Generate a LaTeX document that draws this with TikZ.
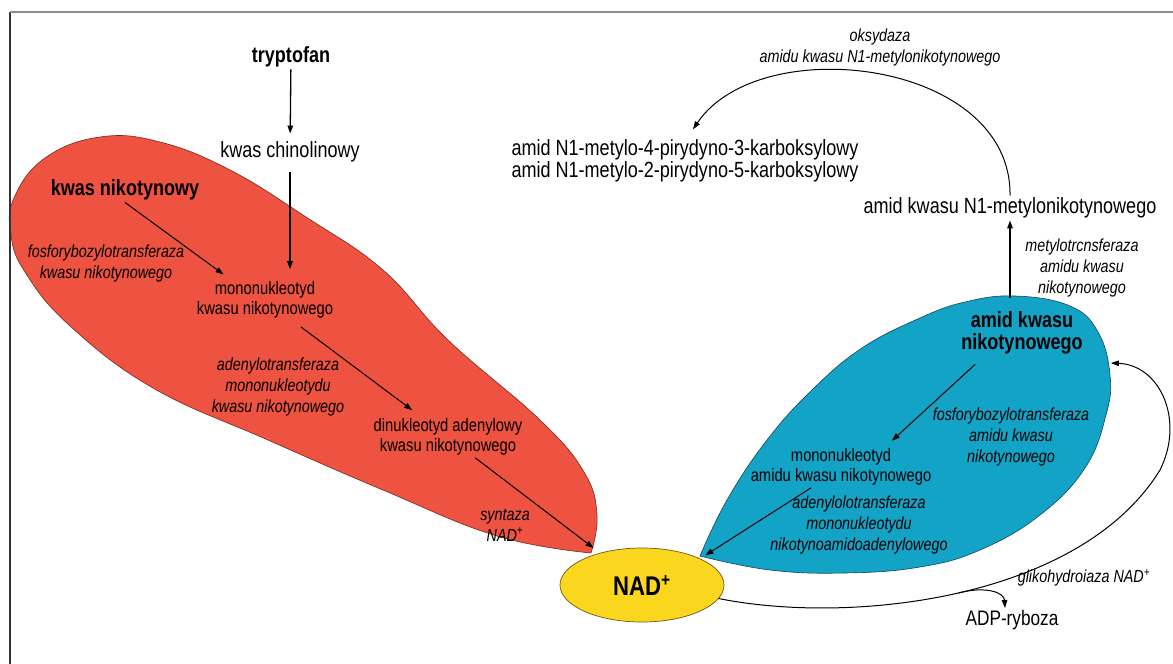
\documentclass[tikz,border=0pt]{standalone}
\usepackage{fontspec}
\setmainfont{Liberation Sans}[FakeStretch=0.82]
\usetikzlibrary{arrows.meta,shapes.geometric}
\definecolor{redleaf}{RGB}{238,82,64}
\definecolor{redline}{RGB}{120,40,30}
\definecolor{blueleaf}{RGB}{18,163,198}
\definecolor{blueline}{RGB}{20,70,90}
\definecolor{nadyellow}{RGB}{250,214,30}
\definecolor{nadline}{RGB}{110,90,20}
\tikzset{
  main/.style={font=\fontsize{22}{22.5}\selectfont, align=center, inner sep=2pt},
  key/.style={font=\fontsize{22}{21.5}\selectfont\bfseries, align=center, inner sep=2pt},
  sub/.style={font=\fontsize{18}{20.5}\selectfont, align=center, inner sep=2pt},
  enz/.style={font=\fontsize{17.5}{21}\selectfont\itshape, align=center, inner sep=2pt},
  nadnode/.style={ellipse, fill=nadyellow, draw=nadline, line width=0.7pt,
    minimum width=164pt, minimum height=74pt, font=\fontsize{27}{27}\selectfont\bfseries},
  arr/.style={-{Triangle[length=8pt,width=5.5pt]}, line width=1pt},
}
\begin{document}
\begin{tikzpicture}[x=1pt,y=-1pt]
  \useasboundingbox (0,0) rectangle (1173,664);
  \fill[white] (0,0) rectangle (1173,664);
  \filldraw[fill=redleaf, draw=redline, line width=0.6pt] plot[smooth, tension=0.7] coordinates {
    (591,553) (597,515) (584,472) (540,420) (448,340) (383,270) (306,217) (230,170)
    (160,142) (100,137) (45,158) (14,198) (11,235) (25,272) (69,325) (153,388)
    (268,440) (383,490) (497,536) (591,553)} -- cycle;
  \filldraw[fill=blueleaf, draw=blueline, line width=0.6pt] plot[smooth, tension=0.7] coordinates {
    (700,556) (727,500) (767,440) (812,390) (862,348) (920,318) (965,302) (1015,296)
    (1070,306) (1098,332) (1110,375) (1106,415) (1085,468) (1040,515) (980,550)
    (920,567) (845,573) (770,570) (700,556)} -- cycle;
  \draw[black!80, line width=1.5pt] (10,664) -- (10,12);
  \draw[black!45, line width=1.5pt] (10,12) -- (1173,12);

  \node[key] (tryp) at (291,57) {tryptofan};
  \node[main] (kch) at (290,152) {kwas chinolinowy};
  \node[key] (kn) at (125,190) {kwas nikotynowy};
  \node[enz] (e1) at (106,263) {fosforybozylotransferaza\\kwasu nikotynowego};
  \node[sub] (mnk) at (265,300) {mononukleotyd\\kwasu nikotynowego};
  \node[enz] (e2) at (278,387) {adenylotransferaza\\mononukleotydu\\kwasu nikotynowego};
  \node[sub] (dnk) at (448,437) {dinukleotyd adenylowy\\kwasu nikotynowego};
  \node[enz] (e3) at (505,525) {syntaza\\NAD\textsuperscript{+}};
  \node[nadnode] (nad) at (642,585) {NAD\textsuperscript{+}};
  \node[key] (akn) at (1022,333) {amid kwasu\\nikotynowego};
  \node[enz] (e4) at (1011,437) {fosforybozylotransferaza\\amidu kwasu\\nikotynowego};
  \node[sub] (mnan) at (841,467) {mononukleotyd\\amidu kwasu nikotynowego};
  \node[enz] (e5) at (859,525) {adenylolotransferaza\\mononukleotydu\\nikotynoamidoadenylowego};
  \node[main] (mnam) at (1010,208) {amid kwasu N1-metylonikotynowego};
  \node[enz] (e6) at (1082,268) {metylotrcnsferaza\\amidu kwasu\\nikotynowego};
  \node[main] (apk) at (685,161) {amid N1-metylo-4-pirydyno-3-karboksylowy\\amid N1-metylo-2-pirydyno-5-karboksylowy};
  \node[enz] (e7) at (880,47) {oksydaza\\amidu kwasu N1-metylonikotynowego};
  \node[enz] (e8) at (1084,578) {glikohydroiaza NAD\textsuperscript{+}};
  \node[main, font=\fontsize{21}{22}\selectfont] (adp) at (1012,620) {ADP-ryboza};

  \draw[arr, line width=1.3pt, shorten >=6pt] (tryp) -- (kch);
  \draw[arr, line width=1.3pt, shorten <=8pt, shorten >=10pt] (kch) -- (kch |- mnk.north);
  \draw[arr, shorten >=8pt] (kn.south) -- ([xshift=-35pt]mnk.north);
  \draw[arr, shorten <=10pt, shorten >=10pt] (mnk) -- (dnk);
  \draw[arr, shorten >=8pt] (dnk) -- (nad);
  \draw[arr, shorten <=12pt, shorten >=8pt] ([xshift=-38pt]akn.south) -- ([xshift=45pt]mnan.north);
  \draw[arr, shorten >=6pt] ([xshift=-30pt]mnan.south) -- (nad.north east);
  \draw[arr, line width=1.3pt] ([yshift=12pt]akn.north -| mnam.south) -- (mnam.south);
  \draw[arr] (mnam.north) .. controls (1012,60) and (760,30) .. ([xshift=8pt,yshift=8pt]apk.north);
  \draw[arr] (nad.-10) .. controls (850,625) and (1080,600) .. (1160,470) coordinate[pos=0.5] (br)
    .. controls (1185,420) and (1160,365) .. ([shift={(26,30)}]akn.east);
  \draw[arr] (br) .. controls (985,586) and (1004,592) .. ([xshift=-7pt]adp.north);
\end{tikzpicture}
\end{document}
